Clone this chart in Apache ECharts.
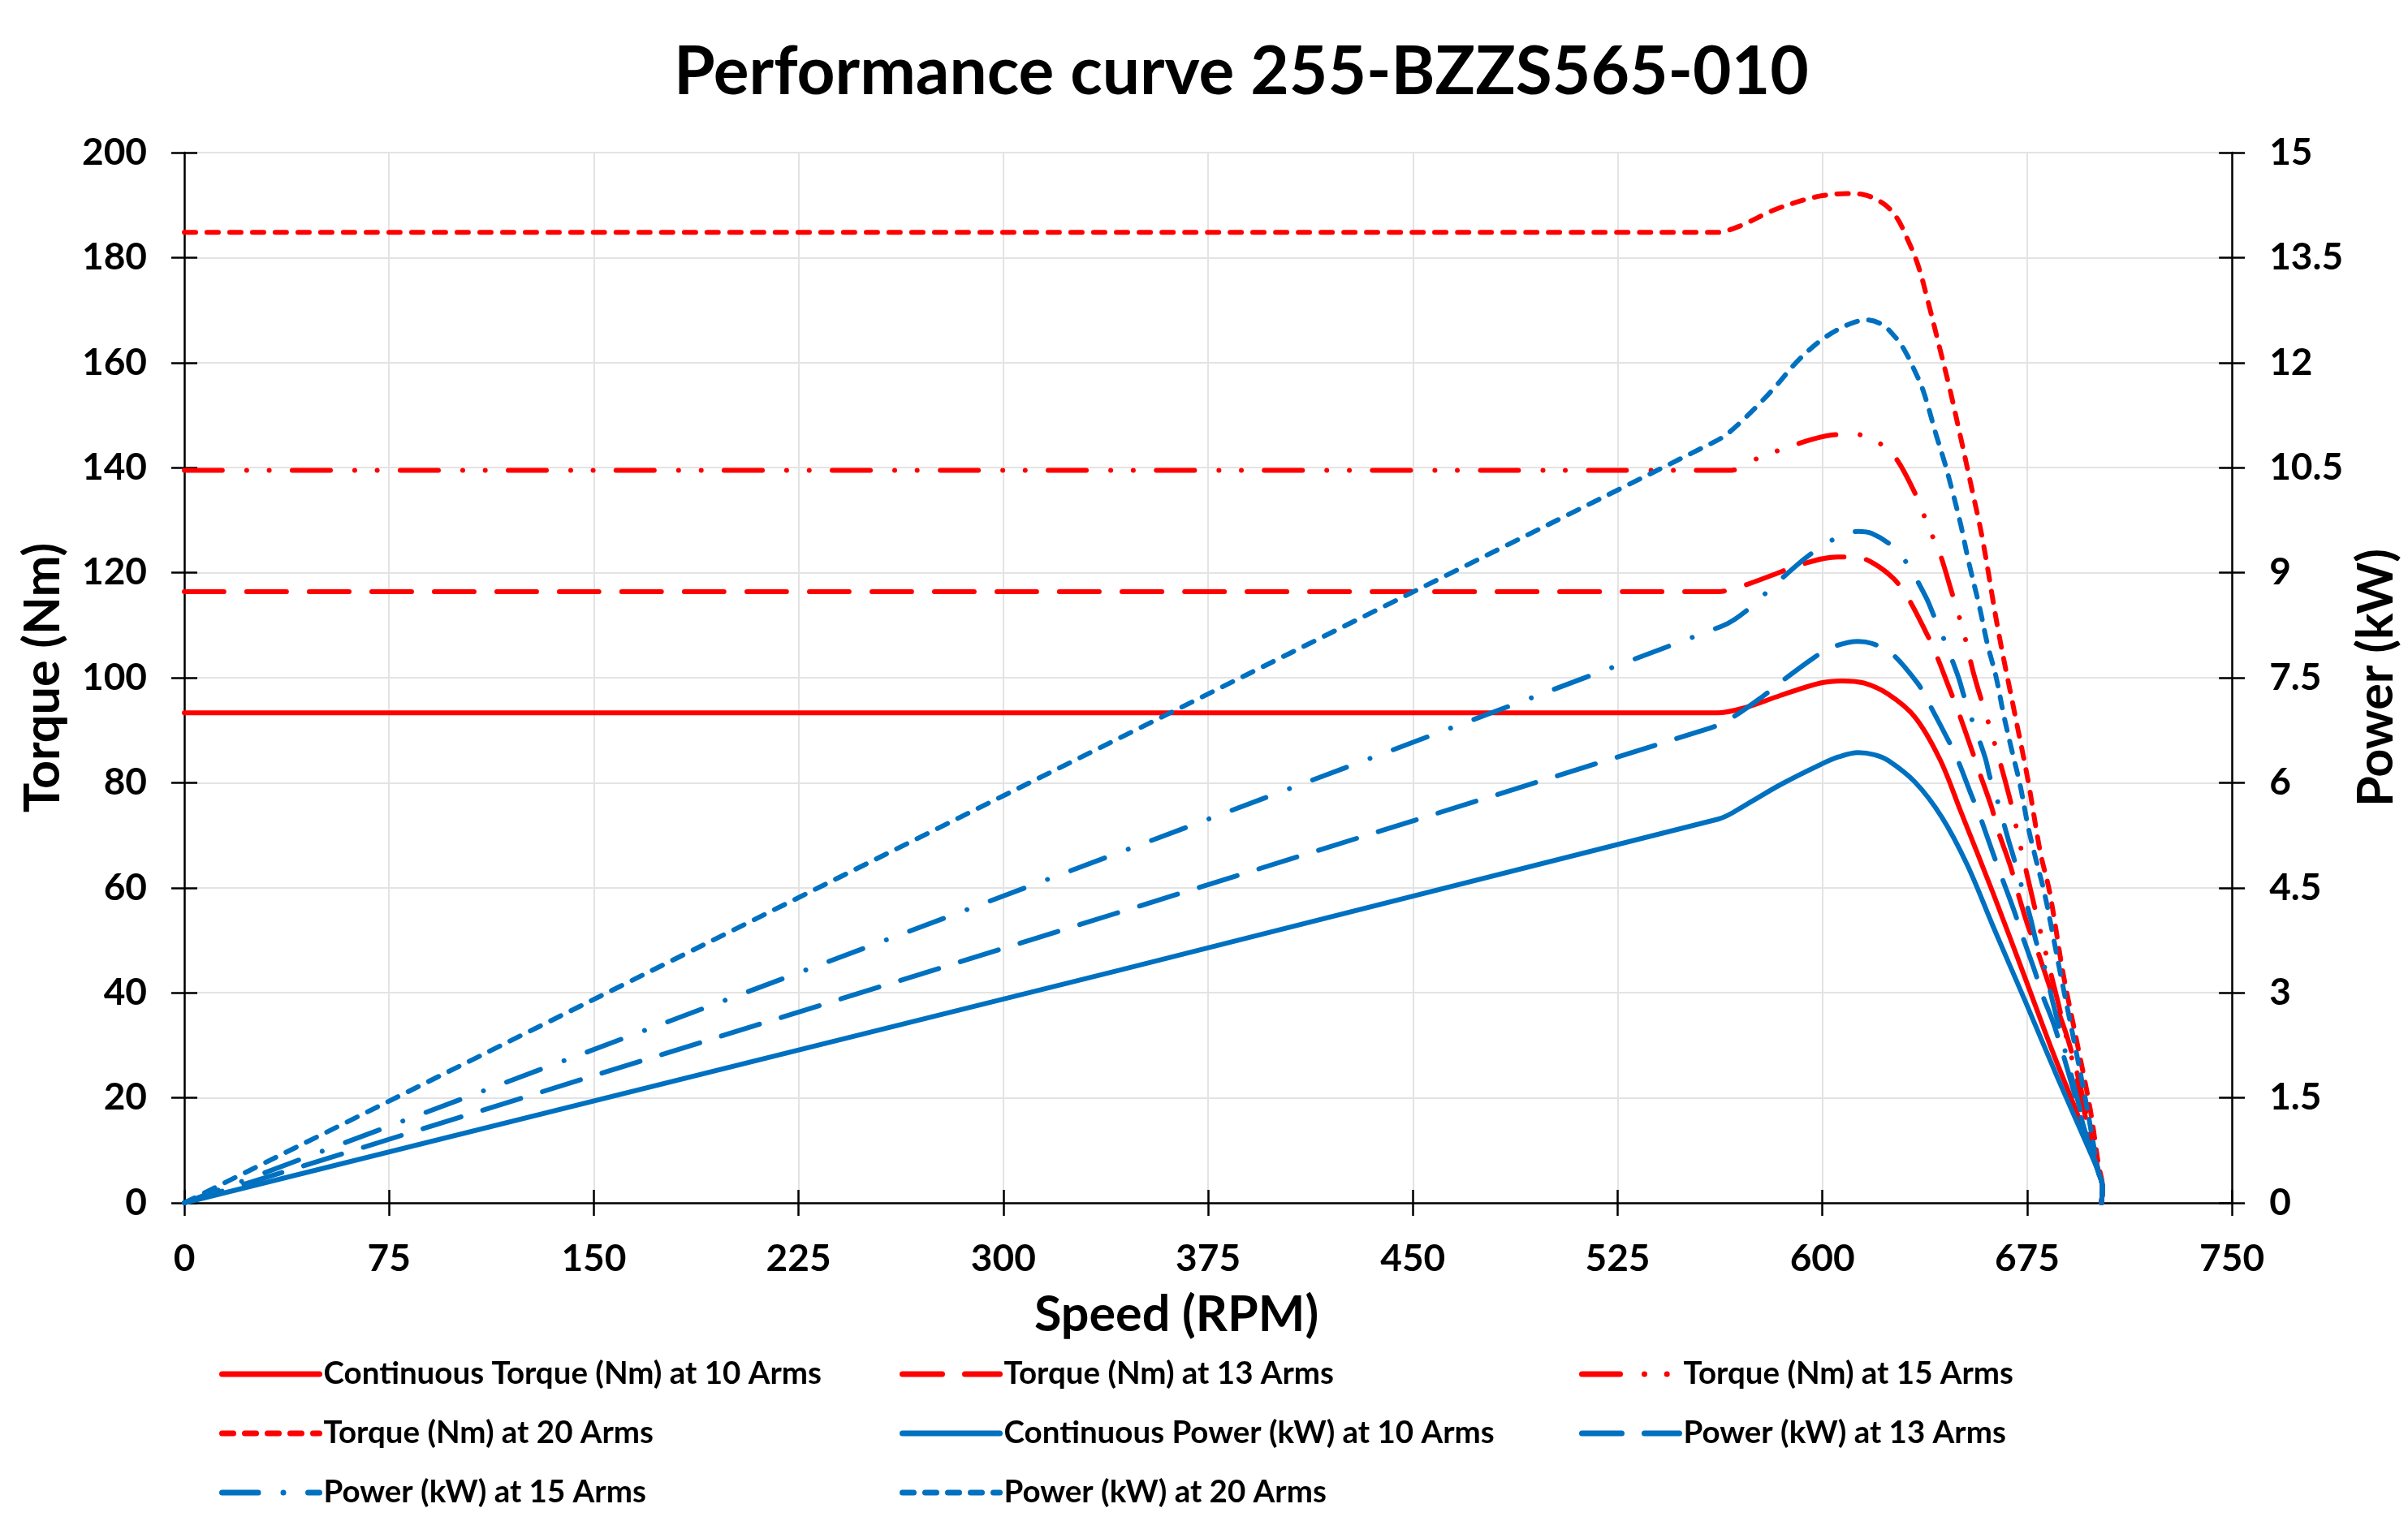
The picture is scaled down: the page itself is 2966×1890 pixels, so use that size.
<!DOCTYPE html>
<html>
<head>
<meta charset="utf-8">
<script src="https://cdn.jsdelivr.net/npm/echarts@6/dist/echarts.min.js"></script>
<style>
html,body{margin:0;padding:0;background:#fff;}
#chart{width:2966px;height:1890px;}
</style>
</head>
<body>
<div id="chart"></div>
<script>
// ---- Data (rpm, value) ----
const titleText = 'Performance curve 255-BZZS565-010';
const seriesNames = [
  'Continuous Torque (Nm) at 10 Arms',
  'Torque (Nm) at 13 Arms',
  'Torque (Nm) at 15 Arms',
  'Torque (Nm) at 20 Arms',
  'Continuous Power (kW) at 10 Arms',
  'Power (kW) at 13 Arms',
  'Power (kW) at 15 Arms',
  'Power (kW) at 20 Arms'
];

const torque10 = [[0,93.3],[561.5,93.3],[571.7,94.3],[584.5,96.6],[599.3,99.0],[607.2,99.4],[615.1,99.0],[624,96.9],[633.9,92.5],[643,84.5],[650.7,74.5],[662.5,59.0],[674.4,42.6],[684.3,28.8],[693.2,17.2],[698,10.5],[701,6],[702.6,2.9],[702.2,0]];
const torque13 = [[0,116.4],[562,116.4],[569.7,117.3],[583.5,119.9],[590.4,121.3],[605.7,123.0],[613,122.9],[619,121.7],[626,118.9],[631,115.5],[637.8,108.8],[641.3,104.9],[646.7,97.7],[649.6,93.8],[654.6,86.4],[657,82.7],[662,75.3],[664,71.4],[669,63.9],[671,60.1],[675.3,52.7],[678.3,48.7],[684.3,39.5],[690,31],[695,21],[698.5,12],[701,6.3],[702.6,2.9],[702.2,0]];
const torque15 = [[0,139.5],[566.7,139.5],[573.6,141.2],[581.5,142.8],[589.4,144.3],[603.2,146.2],[611.5,146.4],[619.3,145.1],[625.9,142.5],[633.3,135.8],[639.5,127.9],[642.8,124],[647.2,116.6],[651.9,108.3],[655.6,100.4],[662.5,88.5],[668.5,77.3],[672.2,68.7],[679.3,52.9],[686.2,38.4],[688.7,32.9],[693.5,23],[698,12.5],[701,6.5],[702.6,2.9],[702.2,0]];
const torque20 = [[0,184.8],[561,184.8],[569.7,186.0],[581.5,188.9],[591.4,190.7],[600,191.8],[609,192.2],[615,192.0],[622,190.4],[627,187.8],[631,183.7],[635,178.6],[638.8,171.4],[642.8,163.1],[646.7,154.9],[650.7,145.6],[654.6,136.3],[658.6,126.5],[664.5,108.7],[670.4,93.3],[675.4,80.2],[679.8,66.8],[683.3,59.0],[688.2,43.6],[693.2,30.7],[698.1,17.8],[701,7.6],[702.6,2.9],[702.2,0]];

const power10 = [[0,0],[561.8,5.48],[572.6,5.70],[584.5,5.97],[599.3,6.26],[606,6.37],[613.1,6.43],[619,6.40],[624,6.32],[633.9,6.01],[643.7,5.51],[653,4.83],[662.5,3.95],[674.4,2.87],[686.2,1.78],[696.1,0.9],[701,0.45],[702.6,0.22],[702.2,0]];
const power13 = [[0,0],[558.8,6.78],[565.7,6.90],[578.4,7.24],[584.5,7.43],[596.3,7.77],[603.2,7.93],[613.1,8.02],[618.1,7.99],[625,7.86],[634.9,7.42],[638.8,7.15],[645.8,6.63],[649.2,6.36],[654.6,5.82],[657.6,5.53],[662.5,4.99],[665.3,4.69],[670.4,4.15],[672.9,3.85],[677.8,3.31],[680.3,3.0],[685.2,2.5],[692,1.6],[697.5,0.85],[701,0.45],[702.6,0.22],[702.2,0]];
const power15 = [[0,0],[562.8,8.23],[567.7,8.33],[573.5,8.50],[579.6,8.72],[590.4,9.10],[596.9,9.30],[603.8,9.47],[613.1,9.59],[618.1,9.56],[625.2,9.39],[630.5,9.16],[637.8,8.66],[641.1,8.36],[644.3,8.07],[649.7,7.52],[652,7.22],[654.6,6.92],[659.6,6.36],[661.5,6.06],[664,5.76],[668,5.20],[670.3,4.90],[672.4,4.60],[676.4,4.04],[678.3,3.73],[681.3,3.38],[684.3,2.88],[690,2.0],[696,1.1],[701,0.45],[702.6,0.22],[702.2,0]];
const power20 = [[0,0],[561,10.88],[565.7,11.0],[571.7,11.21],[577.6,11.44],[583.5,11.69],[589.4,11.96],[595.4,12.19],[601.3,12.37],[609.2,12.54],[616.1,12.61],[622,12.54],[627,12.35],[629.9,12.19],[632.9,11.96],[636.9,11.6],[641.8,10.95],[644.8,10.57],[647.7,10.15],[650.7,9.68],[653.6,9.15],[657.6,8.50],[660.5,7.97],[663.5,7.53],[666.5,6.95],[669.4,6.46],[672.4,5.97],[675.4,5.36],[678.3,4.89],[681.3,4.43],[684.3,3.85],[687.2,3.27],[690.2,2.69],[693.2,2.11],[696.1,1.53],[699,0.9],[701,0.45],[702.6,0.22],[702.2,0]];

const xTicks = {min: 0, max: 750, interval: 75};
const torqueTicks = {min: 0, max: 200, interval: 20};
const powerTicks = {min: 0, max: 15, interval: 1.5};

// ---- Styles ----
const FONT = 'Lato';
const RED = '#FF0000', BLUE = '#0070C0';
const LW = 6;
const dashLong = [49, 28];
const dashShort = [14, 14];
const dashDotDot = [47, 30, 0.01, 27.7, 0.01, 28.3];
const dashDot = [44.5, 31, 0.01, 30.5];

function mkSeries(name, data, color, dash, yIdx) {
  return {
    name: name, type: 'line', data: data, xAxisIndex: 0, yAxisIndex: yIdx,
    smooth: 0.35, symbol: 'none', showSymbol: false,
    lineStyle: {color: color, width: LW, type: dash, cap: 'round', join: 'round'},
    itemStyle: {color: color},
    emphasis: {disabled: true}, animation: false
  };
}

const series = [
  mkSeries(seriesNames[0], torque10, RED, 'solid', 0),
  mkSeries(seriesNames[1], torque13, RED, dashLong, 0),
  mkSeries(seriesNames[2], torque15, RED, dashDotDot, 0),
  mkSeries(seriesNames[3], torque20, RED, dashShort, 0),
  mkSeries(seriesNames[4], power10, BLUE, 'solid', 2),
  mkSeries(seriesNames[5], power13, BLUE, dashLong, 2),
  mkSeries(seriesNames[6], power15, BLUE, dashDot, 2),
  mkSeries(seriesNames[7], power20, BLUE, dashShort, 2)
];

const axisLineStyle = {show: true, lineStyle: {color: '#000', width: 2.5}};
const labelStyle = {fontFamily: FONT, fontWeight: 'bold', fontSize: 46, color: '#000'};
const tickOut = {show: true, inside: false, length: 16, lineStyle: {color: '#000', width: 2.5}};
const tickIn = {show: true, inside: true, length: 16, lineStyle: {color: '#000', width: 2.5}};
const gridLine = {show: true, lineStyle: {color: '#e3e3e3', width: 2}};
const nameStyle = {fontFamily: FONT, fontWeight: 'bold', fontSize: 61, color: '#000'};

function legendCol(left, names) {
  return {
    orient: 'vertical', left: left, top: 1667,
    itemWidth: 120, itemHeight: 14, itemGap: 31,
    data: names,
    itemStyle: {opacity: 0},
    lineStyle: {width: 7},
    textStyle: {fontFamily: FONT, fontWeight: 'bold', fontSize: 38.5, color: '#000', lineHeight: 42},
    selectedMode: false
  };
}

const option = {
  backgroundColor: '#fff',
  animation: false,
  title: {
    text: titleText, left: 825, top: 44,
    textStyle: {fontFamily: FONT, fontWeight: 'bold', fontSize: 82, color: '#000'}
  },
  grid: {left: 227, right: 208, top: 188, bottom: 408, containLabel: false},
  legend: [
    legendCol(265, [seriesNames[0], seriesNames[3], seriesNames[6]]),
    legendCol(1103, [seriesNames[1], seriesNames[4], seriesNames[7]]),
    legendCol(1940, [seriesNames[2], seriesNames[5]])
  ],
  xAxis: [
    {type: 'value', min: xTicks.min, max: xTicks.max, interval: xTicks.interval, position: 'bottom',
     name: 'Speed (RPM)', nameLocation: 'middle', nameGap: 108,
     nameTextStyle: Object.assign({padding: [0, 78, 0, 0]}, nameStyle),
     axisLine: axisLineStyle, axisTick: tickOut, axisLabel: Object.assign({margin: 46}, labelStyle),
     splitLine: gridLine},
    {type: 'value', min: xTicks.min, max: xTicks.max, interval: xTicks.interval, position: 'bottom',
     axisLine: {show: false}, axisTick: tickIn, axisLabel: {show: false}, splitLine: {show: false}}
  ],
  yAxis: [
    {type: 'value', min: torqueTicks.min, max: torqueTicks.max, interval: torqueTicks.interval, position: 'left',
     name: 'Torque (Nm)', nameLocation: 'middle', nameGap: 143, nameRotate: 90, nameTextStyle: nameStyle,
     axisLine: axisLineStyle, axisTick: tickOut, axisLabel: Object.assign({margin: 46}, labelStyle),
     splitLine: gridLine},
    {type: 'value', min: torqueTicks.min, max: torqueTicks.max, interval: torqueTicks.interval, position: 'left',
     axisLine: {show: false}, axisTick: tickIn, axisLabel: {show: false}, splitLine: {show: false}},
    {type: 'value', min: powerTicks.min, max: powerTicks.max, interval: powerTicks.interval, position: 'right',
     name: 'Power (kW)', nameLocation: 'middle', nameGap: 140, nameRotate: 90, nameTextStyle: nameStyle,
     axisLine: axisLineStyle, axisTick: tickOut, axisLabel: Object.assign({margin: 46}, labelStyle),
     splitLine: {show: false}},
    {type: 'value', min: powerTicks.min, max: powerTicks.max, interval: powerTicks.interval, position: 'right',
     axisLine: {show: false}, axisTick: tickIn, axisLabel: {show: false}, splitLine: {show: false}}
  ],
  series: series
};

const chart = echarts.init(document.getElementById('chart'), null, {renderer: 'canvas'});
chart.setOption(option);
</script>
</body>
</html>
